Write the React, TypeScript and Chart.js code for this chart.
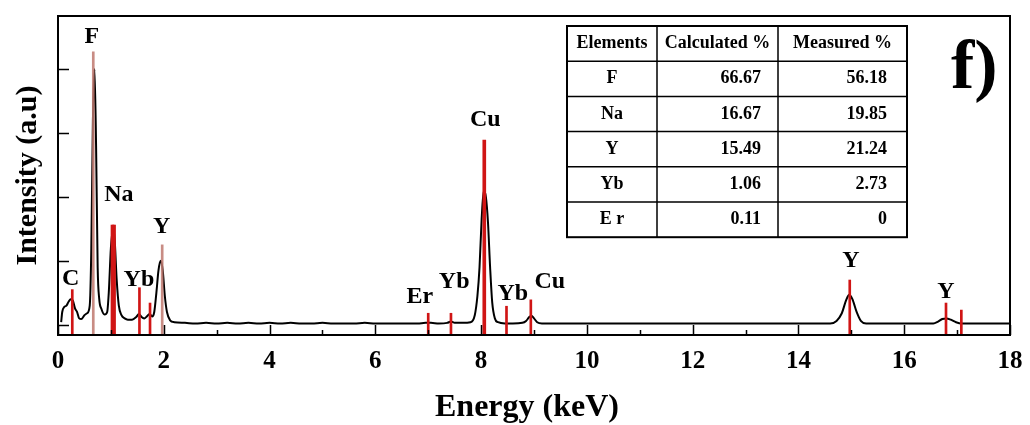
import { useEffect, useRef } from "react";
import { Chart, registerables } from "chart.js";

Chart.register(...registerables);

// ---- spectrum (black line) ----
const energyKeV = [
  0.06, 0.08, 0.12, 0.16, 0.2, 0.24, 0.28, 0.32, 0.36, 0.4, 0.44, 0.5, 0.55, 0.6, 0.63, 0.66, 0.69, 0.72, 0.75, 0.78,
  0.82, 0.88, 0.93, 0.96, 1.0, 1.04, 1.07, 1.11, 1.15, 1.2, 1.26, 1.32, 1.4, 1.48, 1.53, 1.58, 1.63, 1.68, 1.73, 1.78,
  1.82, 1.86, 1.9, 1.94, 1.98, 2.02, 2.06, 2.12, 2.2, 2.4, 2.6, 2.8, 3.0, 3.2, 3.4, 3.6, 3.8, 4.0, 4.2, 4.4, 4.6, 4.8,
  5.0, 5.2, 5.4, 5.6, 5.8, 6.0, 6.2, 6.4, 6.6, 6.8, 6.95, 7.05, 7.2, 7.36, 7.43, 7.5, 7.65, 7.8, 7.88, 7.93, 7.97, 8.01,
  8.05, 8.09, 8.13, 8.17, 8.21, 8.26, 8.32, 8.45, 8.6, 8.78, 8.85, 8.91, 8.95, 9.0, 9.06, 9.15, 9.4, 9.8, 10.2, 10.6,
  11.0, 11.4, 11.8, 12.2, 12.6, 13.0, 13.4, 13.8, 14.2, 14.6, 14.72, 14.82, 14.9, 14.96, 15.02, 15.1, 15.18, 15.28,
  15.5, 15.9, 16.3, 16.55, 16.64, 16.72, 16.8, 16.88, 16.98, 17.08, 17.3, 17.7, 18.0,
];
const intensityAU = [
  0.04, 0.2, 0.28, 0.3, 0.36, 0.4, 0.38, 0.26, 0.2, 0.1, 0.09, 0.15, 0.18, 0.3, 1.2, 3.2, 4.0, 2.8, 0.9, 0.4,
  0.25, 0.16, 0.2, 0.5, 1.2, 1.5, 1.35, 0.7, 0.3, 0.15, 0.1, 0.08, 0.08, 0.12, 0.17, 0.12, 0.1, 0.13, 0.17, 0.13,
  0.2, 0.5, 0.85, 1.0, 0.85, 0.45, 0.2, 0.07, 0.04, 0.03, 0.02, 0.03, 0.02, 0.03, 0.02, 0.03, 0.02, 0.03, 0.02, 0.03, 0.02, 0.02,
  0.03, 0.02, 0.02, 0.02, 0.03, 0.02, 0.02, 0.02, 0.02, 0.02, 0.03, 0.03, 0.02, 0.03, 0.05, 0.03, 0.03, 0.04, 0.15, 0.45, 0.9, 1.65,
  2.1, 2.0, 1.6, 0.9, 0.35, 0.1, 0.04, 0.02, 0.02, 0.03, 0.06, 0.12, 0.14, 0.1, 0.04, 0.02, 0.02, 0.02, 0.02, 0.02,
  0.02, 0.02, 0.02, 0.02, 0.02, 0.02, 0.02, 0.02, 0.02, 0.02, 0.06, 0.18, 0.38, 0.47, 0.4, 0.2, 0.06, 0.02,
  0.02, 0.02, 0.02, 0.02, 0.05, 0.09, 0.1, 0.08, 0.04, 0.02, 0.02, 0.02, 0.02,
];

// ---- reference lines (red markers) ----
const thickLineKeV = [1.03, 1.06, 8.06];
const thickLineHeight = [1.56, 1.56, 2.89];
const redLineKeV = [0.27, 1.54, 1.74, 7.0, 7.43, 8.48, 8.94, 14.97, 16.79, 17.08];
const redLineHeight = [0.55, 0.58, 0.34, 0.18, 0.18, 0.29, 0.39, 0.7, 0.34, 0.23];
const lightLineKeV = [0.667, 1.97];
const lightLineHeight = [4.27, 1.25];

// ---- peak labels ----
const peakLabelText = ["C", "F", "Na", "Yb", "Y", "Cu", "Er", "Yb", "Yb", "Cu", "Y", "Y"];
const peakLabelKeV = [0.24, 0.64, 1.15, 1.53, 1.96, 8.08, 6.84, 7.49, 8.6, 9.3, 14.99, 16.79];
const peakLabelLevel = [0.625, 4.41, 1.93, 0.6, 1.44, 3.11, 0.34, 0.58, 0.39, 0.58, 0.91, 0.42];

// ---- axes ----
const xTickLabels = [0, 2, 4, 6, 8, 10, 12, 14, 16, 18];
const xMinorTicks = [0, 1, 2, 3, 4, 5, 6, 7, 8, 9, 10, 11, 12, 13, 14, 15, 16, 17, 18];
const yTickValues = [0, 1, 2, 3, 4];
const yMin = -0.16;
const yMax = 4.83;
const xTitle = "Energy (keV)";
const yTitle = "Intensity (a.u)";

// ---- table ----
const tableHeader = ["Elements", "Calculated %", "Measured %"];
const tableElements = ["F", "Na", "Y", "Yb", "E r"];
const tableCalculated = ["66.67", "16.67", "15.49", "1.06", "0.11"];
const tableMeasured = ["56.18", "19.85", "21.24", "2.73", "0"];

const SERIF = '"Liberation Serif", "Times New Roman", serif';

export default function App() {
  const ref = useRef<HTMLCanvasElement | null>(null);

  useEffect(() => {
    const canvas = ref.current;
    if (!canvas) return;

    const decorPlugin = {
      id: "decor",
      afterDatasetsDraw(chart: any) {
        const { ctx, chartArea: ca, scales } = chart;
        const x = scales.x;
        const y = scales.y;
        ctx.save();
        // frame
        ctx.strokeStyle = "#000";
        ctx.lineWidth = 2;
        ctx.strokeRect(ca.left, ca.top, ca.right - ca.left, ca.bottom - ca.top);
        // inward ticks
        ctx.lineWidth = 1.5;
        ctx.beginPath();
        xMinorTicks.forEach((k) => {
          const px = Math.round(x.getPixelForValue(k)) + 0.5;
          const len = k % 2 === 0 ? 10 : 5;
          ctx.moveTo(px, ca.bottom);
          ctx.lineTo(px, ca.bottom - len);
        });
        yTickValues.forEach((v) => {
          const py = Math.round(y.getPixelForValue(v)) + 0.5;
          ctx.moveTo(ca.left, py);
          ctx.lineTo(ca.left + 11, py);
        });
        ctx.stroke();

        // peak labels
        ctx.fillStyle = "#000";
        ctx.font = `bold 24px ${SERIF}`;
        ctx.textAlign = "center";
        ctx.textBaseline = "alphabetic";
        peakLabelText.forEach((t, i) => {
          ctx.fillText(t, x.getPixelForValue(peakLabelKeV[i]), y.getPixelForValue(peakLabelLevel[i]));
        });

        // x-axis title
        ctx.font = `bold 32px ${SERIF}`;
        ctx.fillText(xTitle, ca.left + 469, ca.bottom + 81);

        // panel letter
        ctx.font = `bold 70px ${SERIF}`;
        ctx.textAlign = "left";
        ctx.fillText("f)", ca.left + 893, ca.top + 72);

        // table
        const tl = ca.left + 509;
        const tt = ca.top + 10;
        const colW = [90, 121, 129];
        const rowH = 35.2;
        const nRows = tableElements.length + 1;
        const tw = colW[0] + colW[1] + colW[2];
        const th = rowH * nRows;
        ctx.fillStyle = "#fff";
        ctx.fillRect(tl, tt, tw, th);
        ctx.strokeStyle = "#000";
        ctx.lineWidth = 1.5;
        ctx.beginPath();
        for (let r = 1; r < nRows; r++) {
          const yy = tt + r * rowH;
          ctx.moveTo(tl, yy);
          ctx.lineTo(tl + tw, yy);
        }
        let cx = tl;
        for (let c = 0; c < 2; c++) {
          cx += colW[c];
          ctx.moveTo(cx, tt);
          ctx.lineTo(cx, tt + th);
        }
        ctx.stroke();
        ctx.lineWidth = 2;
        ctx.strokeRect(tl, tt, tw, th);

        ctx.fillStyle = "#000";
        ctx.font = `bold 18px ${SERIF}`;
        ctx.textBaseline = "middle";
        const c0 = tl + colW[0] / 2;
        const c1 = tl + colW[0] + colW[1] / 2;
        const c2 = tl + colW[0] + colW[1] + colW[2] / 2;
        const r1 = tl + colW[0] + colW[1] - 17;
        const r2 = tl + tw - 20;
        ctx.textAlign = "center";
        ctx.fillText(tableHeader[0], c0, tt + rowH / 2);
        ctx.fillText(tableHeader[1], c1, tt + rowH / 2);
        ctx.fillText(tableHeader[2], c2, tt + rowH / 2);
        tableElements.forEach((el, i) => {
          const yy = tt + rowH * (i + 1) + rowH / 2;
          ctx.textAlign = "center";
          ctx.fillText(el, c0, yy);
          ctx.textAlign = "right";
          ctx.fillText(tableCalculated[i], r1, yy);
          ctx.fillText(tableMeasured[i], r2, yy);
        });
        ctx.restore();
      },
    };

    const barData = (ks: number[], hs: number[]) => ks.map((k, i) => ({ x: k, y: [yMin, hs[i]] }));

    const chart = new Chart(canvas, {
      type: "line",
      data: {
        datasets: [
          {
            type: "line",
            label: "spectrum",
            data: energyKeV.map((e, i) => ({ x: e, y: intensityAU[i] })),
            borderColor: "#000",
            borderWidth: 2,
            pointRadius: 0,
            cubicInterpolationMode: "monotone",
            order: 3,
          } as any,
          {
            type: "bar",
            label: "light",
            data: barData(lightLineKeV, lightLineHeight),
            backgroundColor: "rgba(190,120,110,0.85)",
            barThickness: 2,
            grouped: false,
            order: 1,
          } as any,
          {
            type: "bar",
            label: "red",
            data: barData(redLineKeV, redLineHeight),
            backgroundColor: "#d01515",
            barThickness: 2,
            grouped: false,
            order: 1,
          } as any,
          {
            type: "bar",
            label: "thick",
            data: barData(thickLineKeV, thickLineHeight),
            backgroundColor: "#d01515",
            barThickness: 3,
            grouped: false,
            order: 1,
          } as any,
        ],
      },
      options: {
        responsive: false,
        animation: false,
        events: [],
        layout: { padding: { top: 16, right: 20, left: 0, bottom: 0 } },
        plugins: { legend: { display: false }, tooltip: { enabled: false }, title: { display: false } },
        scales: {
          x: {
            type: "linear",
            min: 0,
            max: 18,
            offset: false,
            grid: { display: false, drawTicks: false },
            border: { display: false },
            afterBuildTicks: (s: any) => {
              s.ticks = xTickLabels.map((v) => ({ value: v }));
            },
            afterFit: (s: any) => {
              s.height = 90;
              s.paddingLeft = 0;
              s.paddingRight = 0;
            },
            ticks: {
              color: "#000",
              font: { family: SERIF, size: 25, weight: "bold" },
              padding: 12,
              maxRotation: 0,
              autoSkip: false,
            },
            title: { display: false },
          },
          y: {
            type: "linear",
            min: yMin,
            max: yMax,
            grid: { display: false, drawTicks: false },
            border: { display: false },
            ticks: { display: false },
            afterFit: (s: any) => {
              s.width = 58;
            },
            title: {
              display: true,
              text: yTitle,
              color: "#000",
              font: { family: SERIF, size: 30, weight: "bold" },
              padding: { top: 10, bottom: 0 },
            },
          },
        },
      } as any,
      plugins: [decorPlugin],
    });

    return () => {
      chart.destroy();
    };
  }, []);

  return (
    <div style={{ position: "fixed", left: 0, top: 0, width: 1030, height: 425, background: "#fff" }}>
      <canvas ref={ref} width={1030} height={425} style={{ display: "block" }} />
    </div>
  );
}
